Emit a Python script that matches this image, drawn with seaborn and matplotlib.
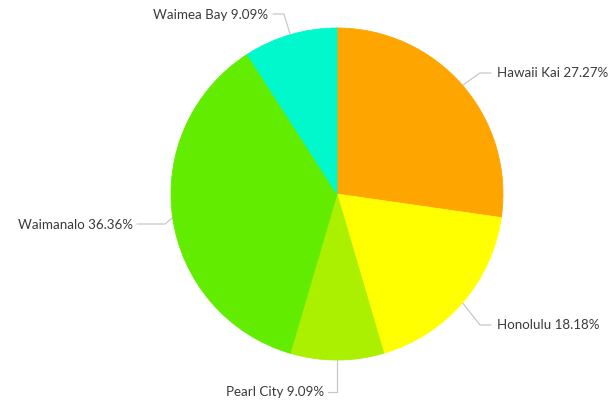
import numpy as np
import matplotlib
matplotlib.use("Agg")
import matplotlib.pyplot as plt
import seaborn as sns

# Data
places = ['Hawaii Kai', 'Honolulu', 'Pearl City', 'Waimanalo', 'Waimea Bay']
counts = [3, 2, 1, 4, 1]
colors = ['#FFA500', '#FFFF00', '#AAF000', '#62EC00', '#00F8CC']

sns.set_theme(style="white")
plt.rcParams['font.family'] = ['Lato', 'DejaVu Sans']

W, H = 611, 403
cx, cy, r = 337, 194, 166  # pie centre / radius in pixels

fig = plt.figure(figsize=(W / 100, H / 100), dpi=100)
ax = fig.add_axes([(cx - r) / W, (H - cy - r) / H, 2 * r / W, 2 * r / H])
wedges, _ = ax.pie(counts, colors=colors, startangle=90, counterclock=False,
                   radius=1)
for w in wedges:
    # edge in the face colour hides the hairline seam between slices
    w.set_edgecolor(w.get_facecolor())
    w.set_linewidth(0.6)
ax.set_xlim(-1, 1)
ax.set_ylim(-1, 1)
ax.set_aspect('equal')
ax.axis('off')


def to_data(px, py):
    return (px - cx) / r, (cy - py) / r


pct = np.array(counts) / sum(counts) * 100
labels = [f'{p} {v:.2f}%' for p, v in zip(places, pct)]

# label layout: (elbow pixel, line end pixel, text pixel, alignment)
layout = [
    ((480, 73), (491, 73), (497, 73), 'left'),
    ((480, 325), (491, 325), (497, 325), 'left'),
    ((337, 392), (328, 392), (324, 392), 'right'),
    ((165, 224), (137, 224), (133, 225), 'right'),
    ((284, 14), (273, 14), (268, 15), 'right'),
]

for w, lab, (elbow, end, txt, ha) in zip(wedges, labels, layout):
    mid = np.deg2rad((w.theta1 + w.theta2) / 2)
    ex, ey = np.cos(mid), np.sin(mid)
    bx, by = to_data(*elbow)
    lx, ly = to_data(*end)
    ax.plot([ex, bx, lx], [ey, by, ly], color='#c8c8c8', lw=0.9,
            clip_on=False, zorder=0)
    tx, ty = to_data(*txt)
    ax.text(tx, ty, lab, ha=ha, va='center', fontsize=9.6, color='#3a3a3a',
            clip_on=False)

fig.savefig('out.png', dpi=100, facecolor='white')
